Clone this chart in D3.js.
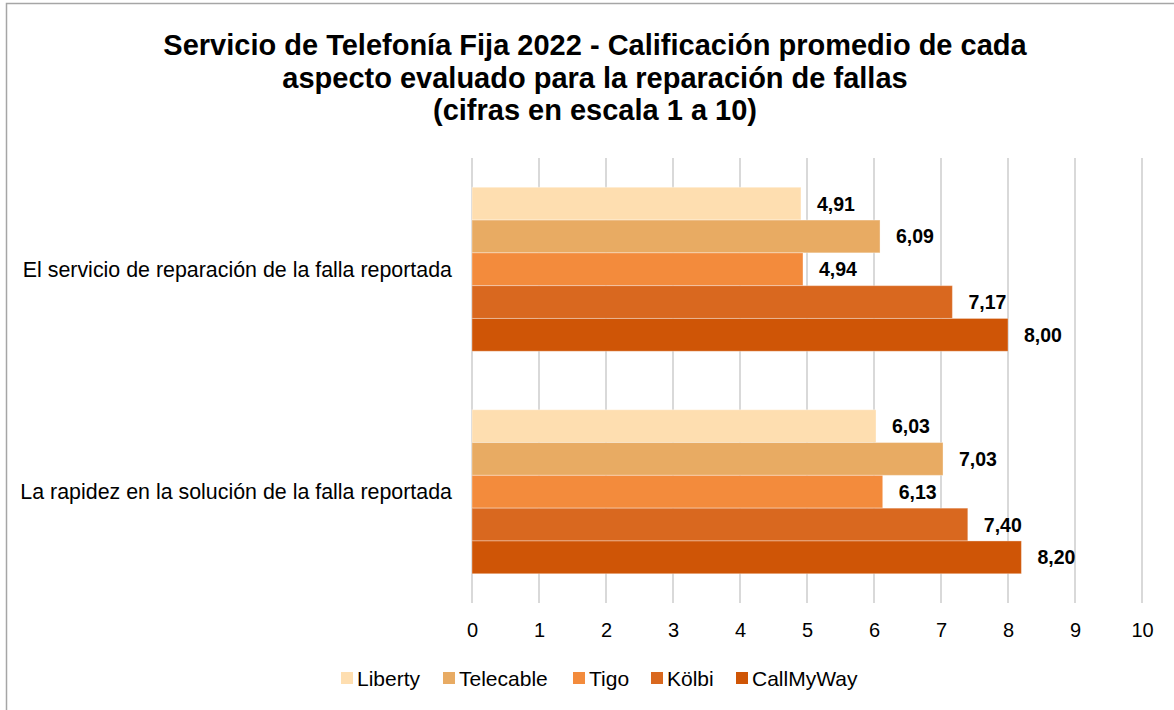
<!DOCTYPE html>
<html>
<head>
<meta charset="utf-8">
<script src="https://cdn.jsdelivr.net/npm/d3@7"></script>
<style>
  body { margin: 0; background: #fff; }
  text { font-family: "Liberation Sans", Arial, sans-serif; }
</style>
</head>
<body>
<svg width="1174" height="710"></svg>
<script>
const categories = [
  "El servicio de reparación de la falla reportada",
  "La rapidez en la solución de la falla reportada"
];
const series = ["Liberty", "Telecable", "Tigo", "Kölbi", "CallMyWay"];
const liberty   = [4.91, 6.03];
const telecable = [6.09, 7.03];
const tigo      = [4.94, 6.13];
const kolbi     = [7.17, 7.40];
const callmyway = [8.00, 8.20];
const xTicks = [0,1,2,3,4,5,6,7,8,9,10];
const titleLines = [
  "Servicio de Telefonía Fija 2022 - Calificación promedio de cada",
  "aspecto evaluado para la reparación de fallas",
  "(cifras en escala 1 a 10)"
];

const values = [liberty, telecable, tigo, kolbi, callmyway];
const colors = ["#FEDEB0", "#E8AB63", "#F38B3C", "#D9681F", "#CF5506"];

const svg = d3.select("svg");

// outer border
svg.append("rect")
  .attr("x", 6.5).attr("y", 3.5)
  .attr("width", 1200).attr("height", 760)
  .attr("fill", "none").attr("stroke", "#A6A6A6").attr("stroke-width", 1.5);

// title
svg.append("g").selectAll("text")
  .data(titleLines)
  .enter()
  .append("text")
  .attr("x", 595)
  .attr("y", (d, i) => 55 + i * 32.5)
  .attr("text-anchor", "middle")
  .attr("font-size", 29)
  .attr("font-weight", "bold")
  .attr("fill", "#000")
  .text(d => d);

const x = d3.scaleLinear().domain([0, 10]).range([472, 1142]);
const y = d3.scaleBand().domain(categories).range([158, 603]);
const inner = d3.scaleBand().domain(series).range([0, 164]);
const groupOff = (y.bandwidth() - 164) / 2;

// gridlines
svg.append("g")
  .selectAll("line")
  .data(xTicks)
  .enter()
  .append("line")
  .attr("x1", d => x(d)).attr("x2", d => x(d))
  .attr("y1", 158).attr("y2", 603)
  .attr("stroke", "#D9D9D9").attr("stroke-width", 2);

// x axis labels
const xAxis = svg.append("g")
  .attr("transform", "translate(0,603)")
  .call(d3.axisBottom(x).tickValues(xTicks).tickSize(0).tickPadding(20).tickFormat(d3.format("d")));
xAxis.select(".domain").remove();
xAxis.selectAll("text").attr("font-size", 20).attr("fill", "#000")
  .style("font-family", '"Liberation Sans", Arial, sans-serif');

// category labels
svg.append("g").selectAll("text")
  .data(categories)
  .enter()
  .append("text")
  .attr("x", 452)
  .attr("y", d => y(d) + y.bandwidth() / 2)
  .attr("dy", "0.35em")
  .attr("text-anchor", "end")
  .attr("font-size", 21.4)
  .attr("fill", "#000")
  .text(d => d);

// bars
const flat = [];
categories.forEach((c, ci) => {
  series.forEach((s, si) => {
    flat.push({cat: c, s: s, v: values[si][ci], color: colors[si]});
  });
});

svg.append("g").selectAll("rect")
  .data(flat)
  .enter()
  .append("rect")
  .attr("x", x(0))
  .attr("y", d => y(d.cat) + groupOff + inner(d.s))
  .attr("width", d => x(d.v) - x(0))
  .attr("height", inner.bandwidth())
  .attr("fill", d => d.color)
  .attr("stroke", "rgba(255,255,255,0.35)")
  .attr("stroke-width", 1);

svg.append("g").selectAll("text")
  .data(flat)
  .enter()
  .append("text")
  .attr("x", d => x(d.v) + 16)
  .attr("y", d => y(d.cat) + groupOff + inner(d.s) + inner.bandwidth() / 2)
  .attr("dy", "0.36em")
  .attr("font-size", 19.5)
  .attr("font-weight", "bold")
  .attr("fill", "#000")
  .text(d => d3.format(".2f")(d.v).replace(".", ","));

// legend
const legendX = [341, 443, 573, 651, 736];
const legend = svg.append("g").selectAll("g")
  .data(series)
  .enter()
  .append("g")
  .attr("transform", (d, i) => `translate(${legendX[i]},672)`);
legend.append("rect")
  .attr("width", 12).attr("height", 12)
  .attr("fill", (d, i) => colors[i]);
legend.append("text")
  .attr("x", 16).attr("y", 6).attr("dy", "0.36em")
  .attr("font-size", 21)
  .attr("fill", "#000")
  .text(d => d);
</script>
</body>
</html>
